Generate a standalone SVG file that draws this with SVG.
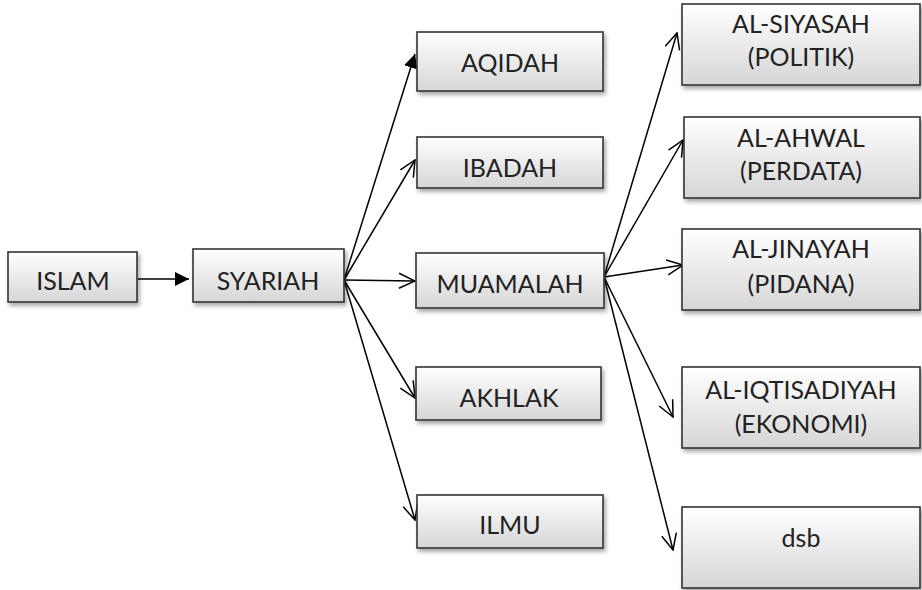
<svg xmlns="http://www.w3.org/2000/svg" width="922" height="590" viewBox="0 0 922 590">
<defs>
<linearGradient id="g" x1="0" y1="0" x2="0" y2="1">
<stop offset="0" stop-color="#ffffff"/>
<stop offset="1" stop-color="#d6d6d6"/>
</linearGradient>
<filter id="sh" x="-10%" y="-20%" width="130%" height="150%">
<feDropShadow dx="2" dy="3" stdDeviation="2" flood-color="#000" flood-opacity="0.35"/>
</filter>
<marker id="open" viewBox="0 0 18 18" refX="17" refY="9" markerWidth="18" markerHeight="18" markerUnits="userSpaceOnUse" orient="auto">
<path d="M1,1.5 L17,9 L1,16.5" fill="none" stroke="#000" stroke-width="1.5"/>
</marker>
<marker id="fill" viewBox="0 0 14 14" refX="14" refY="7" markerWidth="14" markerHeight="14" markerUnits="userSpaceOnUse" orient="auto">
<path d="M0,0 L14,7 L0,14 Z" fill="#000"/>
</marker>
</defs>
<style>
.box{fill:url(#g);stroke:#333;stroke-width:1.6;filter:url(#sh)}
.t{font-family:"Lato","Open Sans","Liberation Sans",sans-serif;font-size:25px;fill:#222;text-anchor:middle}
.c{stroke:#000;stroke-width:1.5;fill:none}
</style>
<g id="connectors">
<line class="c" x1="138" y1="279" x2="189" y2="279" marker-end="url(#fill)"/>
<line class="c" x1="344" y1="280" x2="415" y2="54" marker-end="url(#fill)"/>
<line class="c" x1="344" y1="280" x2="415" y2="160" marker-end="url(#open)"/>
<line class="c" x1="344" y1="280" x2="415" y2="281" marker-end="url(#open)"/>
<line class="c" x1="344" y1="280" x2="415" y2="398" marker-end="url(#open)"/>
<line class="c" x1="344" y1="280" x2="415" y2="520" marker-end="url(#open)"/>
<line class="c" x1="604" y1="277" x2="677" y2="33" marker-end="url(#open)"/>
<line class="c" x1="604" y1="277" x2="683" y2="140" marker-end="url(#open)"/>
<line class="c" x1="604" y1="277" x2="683" y2="265" marker-end="url(#open)"/>
<line class="c" x1="604" y1="277" x2="673" y2="417" marker-end="url(#open)"/>
<line class="c" x1="604" y1="277" x2="673" y2="550" marker-end="url(#open)"/>
</g>
<g id="islam"><rect class="box" x="8" y="252" width="129" height="50"/><text class="t" x="73" y="290">ISLAM</text></g>
<g id="syariah"><rect class="box" x="193" y="249" width="151" height="53"/><text class="t" x="268" y="290">SYARIAH</text></g>
<g id="aqidah"><rect class="box" x="417" y="32" width="186" height="59"/><text class="t" x="510" y="72">AQIDAH</text></g>
<g id="ibadah"><rect class="box" x="417" y="137" width="186" height="51"/><text class="t" x="510" y="177">IBADAH</text></g>
<g id="muamalah"><rect class="box" x="416" y="253" width="188" height="55"/><text class="t" x="510" y="293">MUAMALAH</text></g>
<g id="akhlak"><rect class="box" x="416" y="367" width="185" height="53"/><text class="t" x="509" y="407">AKHLAK</text></g>
<g id="ilmu"><rect class="box" x="417" y="495" width="186" height="53"/><text class="t" x="510" y="534">ILMU</text></g>
<g id="siyasah"><rect class="box" x="682" y="4" width="238" height="81"/><text class="t" x="801" y="33">AL-SIYASAH</text><text class="t" x="801" y="66">(POLITIK)</text></g>
<g id="ahwal"><rect class="box" x="684" y="117" width="236" height="81"/><text class="t" x="801" y="147">AL-AHWAL</text><text class="t" x="801" y="180">(PERDATA)</text></g>
<g id="jinayah"><rect class="box" x="682" y="229" width="238" height="81"/><text class="t" x="801" y="258">AL-JINAYAH</text><text class="t" x="801" y="293">(PIDANA)</text></g>
<g id="iqtisadiyah"><rect class="box" x="682" y="367" width="238" height="81"/><text class="t" x="801" y="399">AL-IQTISADIYAH</text><text class="t" x="801" y="433">(EKONOMI)</text></g>
<g id="dsb"><rect class="box" x="682" y="507" width="238" height="81"/><text class="t" x="801" y="547">dsb</text></g>
</svg>
